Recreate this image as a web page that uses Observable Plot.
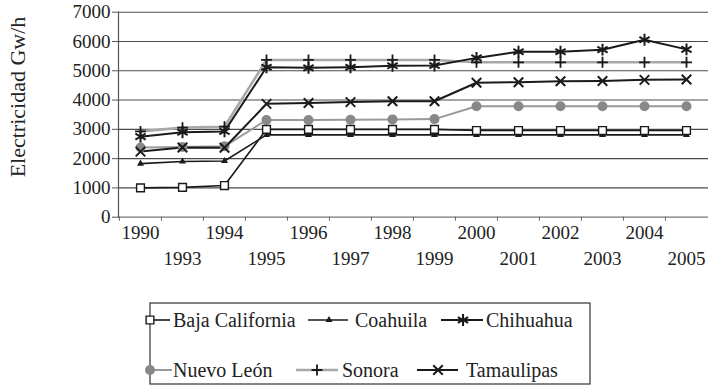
<!DOCTYPE html>
<html><head><meta charset="utf-8">
<script src="https://cdn.jsdelivr.net/npm/d3@7"></script>
<script src="https://cdn.jsdelivr.net/npm/@observablehq/plot@0.6"></script>
<style>
body{margin:0;background:#fff;}
#chart{width:708px;height:387px;overflow:hidden;background:#fff;}
#chart svg{display:block;}
#chart svg, #chart svg text{font-family:"Liberation Serif","Times New Roman","DejaVu Serif",serif !important;}
</style>
</head><body><div id="chart"></div>
<script>
// ---- data ----
const years = ["1990","1993","1994","1995","1996","1997","1998","1999","2000","2001","2002","2003","2004","2005"];
const yTicks = [0,1000,2000,3000,4000,5000,6000,7000];
const topRowYears = years.filter((d,i)=>i%2===0);
const bottomRowYears = years.filter((d,i)=>i%2===1);
const yLabel = "Electricidad Gw/h";
const states = ["Baja California","Coahuila","Chihuahua","Nuevo León","Sonora","Tamaulipas"];

const bajaCalifornia = [1000,1020,1080,3000,3000,3000,3000,3000,2960,2960,2960,2960,2960,2960];
const coahuila       = [1830,1900,1920,2810,2810,2810,2810,2810,2810,2810,2810,2810,2810,2810];
const chihuahua      = [2750,2900,2930,5120,5100,5120,5170,5180,5440,5650,5650,5720,6060,5730];
const nuevoLeon      = [2380,2400,2420,3320,3320,3330,3340,3350,3790,3790,3790,3790,3790,3790];
const sonora         = [2930,3060,3090,5370,5370,5370,5370,5370,5290,5290,5290,5290,5290,5290];
const tamaulipas     = [2240,2380,2370,3870,3900,3930,3960,3960,4590,4610,4640,4650,4690,4700];

const seriesValues = {
  "Baja California": bajaCalifornia,
  "Coahuila": coahuila,
  "Chihuahua": chihuahua,
  "Nuevo León": nuevoLeon,
  "Sonora": sonora,
  "Tamaulipas": tamaulipas
};

// ---- styles ----
const FONT = "'Liberation Serif', 'Times New Roman', 'DejaVu Serif', serif";
const styles = {
  "Baja California": {line:"#1a1a1a", lw:1.6, symbol:"square",   fill:"#fff",  stroke:"#1a1a1a", sw:1.4, r:4.4},
  "Coahuila":        {line:"#1a1a1a", lw:1.6, symbol:"triangle", fill:"#1a1a1a", stroke:"none", sw:0, r:2.6},
  "Chihuahua":       {line:"#1a1a1a", lw:2,   symbol:"asterisk", fill:"none",  stroke:"#1a1a1a", sw:2, r:5.6},
  "Nuevo León":      {line:"#9a9a9a", lw:2,   symbol:"circle",   fill:"#888",  stroke:"none", sw:0, r:5},
  "Sonora":          {line:"#a8a8a8", lw:2.6, symbol:"plus",     fill:"none",  stroke:"#1a1a1a", sw:1.8, r:3.6},
  "Tamaulipas":      {line:"#1a1a1a", lw:2,   symbol:"times",    fill:"none",  stroke:"#1a1a1a", sw:2, r:4.4}
};
const drawOrder = ["Sonora","Nuevo León","Coahuila","Baja California","Tamaulipas","Chihuahua"];

const rows = states.flatMap(s => years.map((y,i)=>({state:s, year:y, value:seriesValues[s][i]})));

const W = 708, H = 290;
const mL = 118, mR = 0, mT = 11.7, mB = 73.3;
const step = (W - mL - mR) / years.length;

const marks = [
  Plot.ruleY(yTicks.filter(d=>d>0), {stroke:"#4a4a4a", strokeWidth:1.1}),
  Plot.ruleY([0], {stroke:"#777", strokeWidth:1.2}),
  Plot.frame({anchor:"left", stroke:"#555", strokeWidth:1.2}),
  Plot.axisY({ticks:yTicks, tickSize:6, tickPadding:2, tickFormat:d=>String(d), label:null, fontSize:19, stroke:"#555", fill:"#222"}),
  Plot.axisX({ticks:years, tickSize:4, tickFormat:()=>"", dx:-step/2, stroke:"#666", label:null}),
  Plot.axisX({ticks:topRowYears, tickSize:0, tickPadding:8, fontSize:19, fill:"#222", label:null}),
  Plot.axisX({ticks:bottomRowYears, tickSize:0, tickPadding:34, fontSize:19, fill:"#222", label:null})
];
for (const s of drawOrder) {
  const st = styles[s];
  marks.push(Plot.line(rows.filter(d=>d.state===s), {x:"year", y:"value", stroke:st.line, strokeWidth:st.lw}));
}
for (const s of drawOrder) {
  const st = styles[s];
  marks.push(Plot.dot(rows.filter(d=>d.state===s), {x:"year", y:"value", symbol:st.symbol, r:st.r, fill:st.fill, stroke:st.stroke, strokeWidth:st.sw}));
}

const chart = Plot.plot({
  width: W, height: H,
  marginLeft: mL, marginRight: mR, marginTop: mT, marginBottom: mB,
  style: {fontFamily:FONT, fontSize:"19px", color:"#222", background:"#fff", overflow:"visible"},
  x: {type:"point", domain:years, padding:0.5, axis:null},
  y: {domain:[0,7000], axis:null},
  marks
});
// y-axis title
d3.select(chart).append("text")
  .attr("transform","translate(17,97) rotate(-90)")
  .attr("text-anchor","middle").attr("dy","0.35em")
  .attr("font-size",22).attr("fill","#222").attr("font-family",FONT)
  .text(yLabel);
document.getElementById("chart").appendChild(chart);

// ---- legend (below the plot) ----
const legendEntries = [
  {state:"Baja California", x1:150, x2:170, mx:150, tx:173, row:0},
  {state:"Coahuila",        x1:308, x2:348, mx:329, tx:355, row:0},
  {state:"Chihuahua",       x1:441, x2:483, mx:463, tx:486, row:0},
  {state:"Nuevo León",      x1:150, x2:172, mx:150, tx:173, row:1},
  {state:"Sonora",          x1:296, x2:338, mx:317, tx:342, row:1},
  {state:"Tamaulipas",      x1:417, x2:458, mx:438, tx:466, row:1}
];
const rowY = [30, 80];
const symbolMap = {square:d3.symbolSquare, triangle:d3.symbolTriangle, asterisk:d3.symbolAsterisk, circle:d3.symbolCircle, plus:d3.symbolPlus, times:d3.symbolTimes};
const leg = d3.create("svg").attr("width", W).attr("height", 387 - H)
  .attr("font-family", FONT);
leg.append("rect").attr("x",150).attr("y",13).attr("width",440).attr("height",81)
  .attr("fill","#fff").attr("stroke","#333").attr("stroke-width",1.2);
for (const e of legendEntries) {
  const st = styles[e.state];
  const y = rowY[e.row];
  leg.append("line").attr("x1",e.x1).attr("x2",e.x2).attr("y1",y).attr("y2",y)
    .attr("stroke",st.line).attr("stroke-width",st.lw);
  leg.append("path").attr("transform",`translate(${e.mx},${y})`)
    .attr("d", d3.symbol(symbolMap[st.symbol], Math.PI*st.r*st.r)())
    .attr("fill",st.fill).attr("stroke",st.stroke).attr("stroke-width",st.sw);
  leg.append("text").attr("x",e.tx).attr("y",y).attr("dy","0.34em")
    .attr("font-size",20).attr("fill","#222").text(e.state);
}
document.getElementById("chart").appendChild(leg.node());
</script>
</body></html>
